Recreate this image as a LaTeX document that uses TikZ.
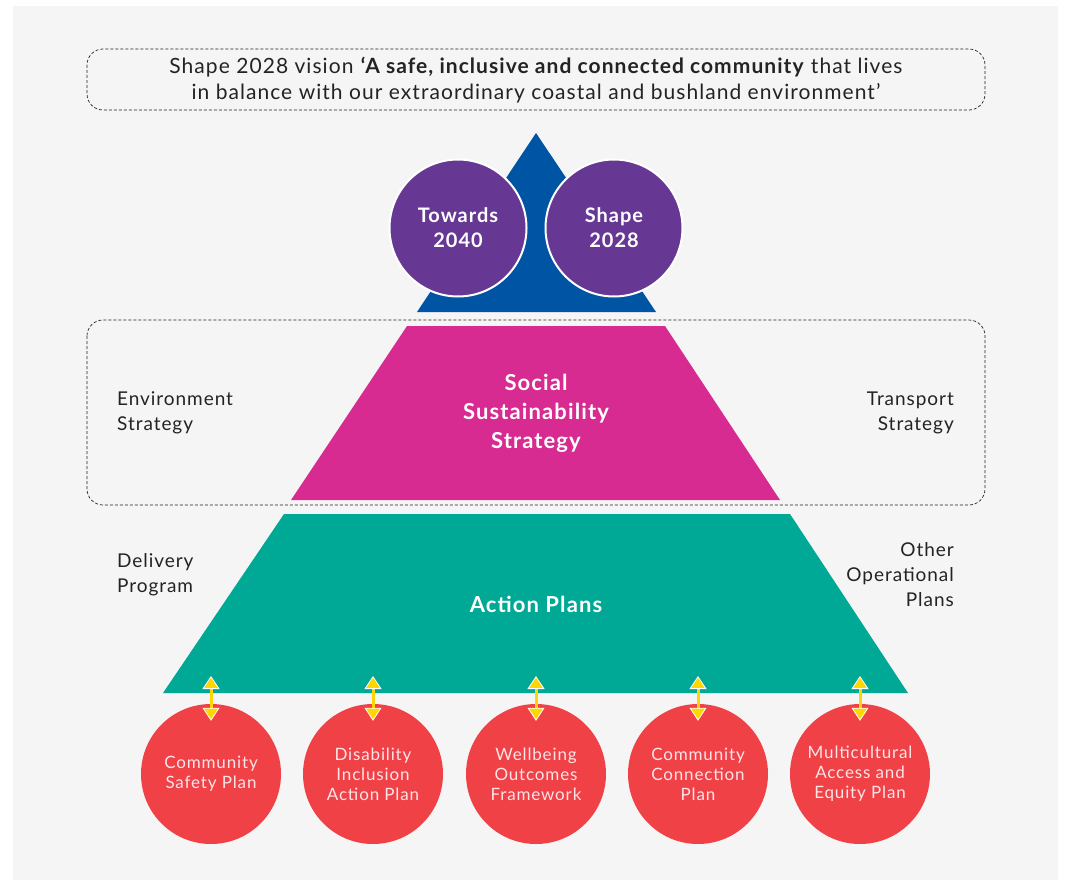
\documentclass[tikz,border=0pt]{standalone}
\usepackage{fontspec}
\setmainfont{Lato}[LetterSpace=5]
\usetikzlibrary{arrows.meta}
\definecolor{fond}{RGB}{245,245,245}
\definecolor{bleu}{RGB}{0,84,164}
\definecolor{violet}{RGB}{102,56,148}
\definecolor{magenta}{RGB}{216,43,145}
\definecolor{sarcelle}{RGB}{0,168,150}
\definecolor{rouge}{RGB}{239,65,70}
\definecolor{jaune}{RGB}{255,214,0}
\definecolor{texte}{RGB}{35,35,35}
\definecolor{rose}{RGB}{255,228,232}
\tikzset{
	fleche/.style={jaune,line width=3pt,{Triangle[width=17pt,length=13pt,color=white,fill=jaune,line width=0.8pt]}-{Triangle[width=17pt,length=13pt,color=white,fill=jaune,line width=0.8pt]}},
	plan/.style={circle,fill=rouge,minimum size=140pt,text=rose,align=center,font=\fontsize{17}{20}\selectfont},
	horizon/.style={circle,fill=violet,draw=white,line width=2pt,minimum size=137pt,text=white,align=center,font=\bfseries\fontsize{20}{25}\selectfont},
	cote/.style={texte,inner sep=0pt,font=\fontsize{19}{25}\selectfont},
	cadre/.style={texte,line width=0.7pt,dash pattern=on 3pt off 2pt,rounded corners=16pt}
}
\begin{document}
\begin{tikzpicture}[x=1pt,y=-1pt]
	\useasboundingbox (0,0) rectangle (1068,883);
	\fill[fond] (13,6) rectangle (1058,880); % le fond
	\draw[cadre] (87,49) rectangle (985,110); % la vision
	\node[texte,align=center,font=\fontsize{21}{26}\selectfont] (vision) at (536,80) {Shape 2028 vision \textbf{‘A safe, inclusive and connected community} that lives\\in balance with our extraordinary coastal and bushland environment’};
	\fill[bleu] (536,133) -- (656,312) -- (417,312) -- cycle; % le triangle
	\node[horizon] (towards) at (458,228) {Towards\\2040};
	\node[horizon] (shape) at (614,228) {Shape\\2028};
	\draw[cadre] (87,320) rectangle (985,505); % les strategies
	\fill[magenta] (407,326) -- (665,326) -- (780,500) -- (291,500) -- cycle;
	\node[text=white,align=center,font=\bfseries\fontsize{22}{29}\selectfont] (social) at (536,413) {Social\\Sustainability\\Strategy};
	\node[cote,align=left,anchor=west] (environment) at (117,413) {Environment\\Strategy};
	\node[cote,align=right,anchor=east] (transport) at (954,413) {Transport\\Strategy};
	\fill[sarcelle] (284,514) -- (790,514) -- (908,693) -- (163,693) -- cycle;
	\node[text=white,font=\bfseries\fontsize{22}{29}\selectfont] (action) at (536,604) {Action Plans};
	\node[cote,align=left,anchor=west] (delivery) at (117,575) {Delivery\\Program};
	\node[cote,align=right,anchor=east] (other) at (954,575) {Other\\Operational\\Plans};
	\node[plan] (safety) at (211,774) {Community\\Safety Plan};
	\node[plan] (disability) at (373,774) {Disability\\Inclusion\\Action Plan};
	\node[plan] (wellbeing) at (536,774) {Wellbeing\\Outcomes\\Framework};
	\node[plan] (connection) at (698,774) {Community\\Connection\\Plan};
	\node[plan] (multicultural) at (860,774) {Multicultural\\Access and\\Equity Plan};
	\coordinate (h1) at (211,676);
	\coordinate (h2) at (373,676);
	\coordinate (h3) at (536,676);
	\coordinate (h4) at (698,676);
	\coordinate (h5) at (860,676);
	\draw[fleche] (h1) -- ([yshift=-17pt]safety.north);
	\draw[fleche] (h2) -- ([yshift=-17pt]disability.north);
	\draw[fleche] (h3) -- ([yshift=-17pt]wellbeing.north);
	\draw[fleche] (h4) -- ([yshift=-17pt]connection.north);
	\draw[fleche] (h5) -- ([yshift=-17pt]multicultural.north);
\end{tikzpicture}
\end{document}
